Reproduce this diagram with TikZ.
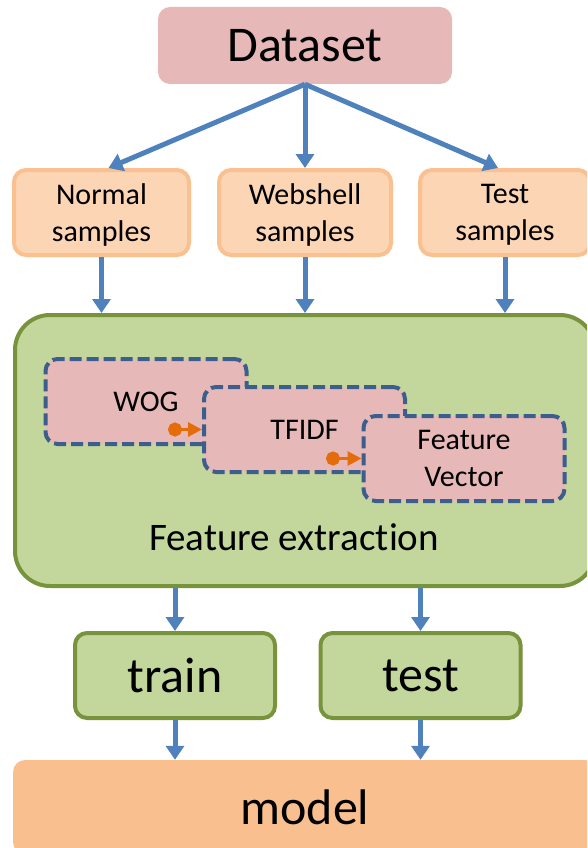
\documentclass[tikz,border=0pt]{standalone}
\usepackage{fontspec}
\setmainfont{Carlito}[Ligatures={NoCommon,NoRare,NoContextual}, Contextuals=NoAlternate]
\usetikzlibrary{arrows.meta}
\definecolor{dsred}{HTML}{E6B9B8}
\definecolor{smpfill}{HTML}{FCD5B5}
\definecolor{smpline}{HTML}{FAC090}
\definecolor{grfill}{HTML}{C3D69B}
\definecolor{grline}{HTML}{77933C}
\definecolor{dashline}{HTML}{3B5E8C}
\definecolor{flowblue}{HTML}{4F81BD}
\definecolor{linkorange}{HTML}{E46C0A}
\definecolor{modelfill}{HTML}{F9BF8F}
\begin{document}
\begin{tikzpicture}[x=1pt, y=-1pt,
        big/.style={font=\fontsize{50}{60}\selectfont},
        mid/.style={font=\fontsize{30}{37}\selectfont, align=center},
        smp/.style={mid, rounded corners=12pt, fill=smpfill, draw=smpline, line width=4pt,
            minimum width=175pt, minimum height=85pt, inner sep=0pt, text depth=0pt},
        stage/.style={mid, rounded corners=12pt, fill=dsred, draw=dashline, line width=4pt,
            dash pattern=on 12pt off 5pt, minimum width=201pt, minimum height=85pt, inner sep=0pt},
        grn/.style={big, rounded corners=12pt, fill=grfill, draw=grline, line width=4pt,
            minimum width=200pt, minimum height=85pt, inner sep=0pt},
        flow/.style={draw=flowblue, line width=5pt, -{Triangle[length=14pt, width=18pt]}},
        link/.style={draw=linkorange, line width=3pt,
            {Circle[length=14pt]}-{Triangle[length=14pt, width=14pt]}}]
        \clip (0, 0) rectangle (587, 848);
        \node[big, fill=dsred, rounded corners=12pt, minimum width=294pt, minimum height=77pt, inner sep=0pt] (data) at (305, 45.5) {Dataset};
        \node[smp, minimum width=175pt] (normal) at (101.5, 212.5) {Normal\\samples};
        \node[smp, minimum width=172pt] (shell) at (305, 212.5) {Webshell\\samples};
        \node[smp, minimum width=170pt] (testset) at (505, 212.5) {Test\\samples};
        \node[rounded corners=35pt, fill=grfill, draw=grline, line width=4pt, minimum width=580pt, minimum height=271pt] (fe) at (305, 450.5) {};
        \node[font=\fontsize{39}{47}\selectfont] (felabel) at (294, 537) {Feature extract\kern0pt ion};
        \node[stage] (wog) at (146, 401.5) {WOG};
        \node[stage] (tfidf) at (304.5, 429.5) {TFIDF};
        \node[stage] (fvec) at (464, 458.5) {Feature\\Vector};
        \coordinate (wogdot) at (168, 429.5);
        \coordinate (tfidfdot) at (326, 458.5);
        \draw[link] (wogdot) -- (tfidf.west);
        \draw[link] (tfidfdot) -- (fvec.west);
        \node[grn] (train) at (175, 675.5) {train};
        \node[grn] (test) at (420.5, 675.5) {test};
        \node[big, fill=modelfill, rounded corners=12pt, minimum width=584pt, minimum height=94pt, inner sep=0pt] (model) at (305, 807) {model};
        \draw[flow] (data.south) -- ([xshift=7pt]normal.north);
        \draw[flow] (data.south) -- (shell.north);
        \draw[flow] (data.south) -- ([xshift=-7pt]testset.north);
        \draw[flow] (normal) -- (normal |- fe.north);
        \draw[flow] (shell) -- (shell |- fe.north);
        \draw[flow] (testset) -- (testset |- fe.north);
        \draw[flow] (train |- fe.south) -- (train.north);
        \draw[flow] (test |- fe.south) -- (test.north);
        \draw[flow] (train.south) -- (train |- model.north);
        \draw[flow] (test.south) -- (test |- model.north);
        \end{tikzpicture}
\end{document}
